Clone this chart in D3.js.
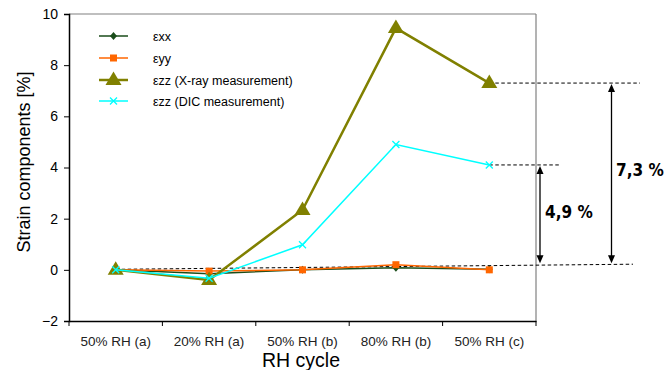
<!DOCTYPE html>
<html><head><meta charset="utf-8">
<script src="https://cdn.jsdelivr.net/npm/d3@7"></script>
<style>body{margin:0;background:#fff;} text{font-family:Arial,"Liberation Sans",sans-serif;}</style>
</head><body>
<svg id="c" width="664" height="370"></svg>
<script>
const categories = ["50% RH (a)","20% RH (a)","50% RH (b)","80% RH (b)","50% RH (c)"];
const exx = [0, -0.15, 0.0, 0.08, 0.02];
const eyy = [0, -0.05, 0.0, 0.2, 0.0];
const ezzXray = [0, -0.4, 2.34, 9.45, 7.3];
const ezzDIC = [0, -0.33, 0.98, 4.9, 4.1];
const yTicks = [-2, 0, 2, 4, 6, 8, 10];
const seriesNames = ["εxx","εyy","εzz (X-ray measurement)","εzz (DIC measurement)"];
const diffLabels = ["7,3 %","4,9 %"];
const baselineVals = [0.02, 0.22];

const svg = d3.select("#c");
const L=69, R=536, T=14, B=321;
const x = d3.scaleBand().domain(categories).range([L,R]);
const y = d3.scaleLinear().domain([-2,10]).range([B,T]);
const cx = c => x(c)+x.bandwidth()/2;

// frame top/right
svg.append("line").attr("x1",L).attr("x2",R).attr("y1",T).attr("y2",T).attr("stroke","#808080").attr("stroke-width",1.2);
svg.append("line").attr("x1",R).attr("x2",R).attr("y1",T).attr("y2",B).attr("stroke","#808080").attr("stroke-width",1.2);

// axes
const ya = svg.append("g").attr("transform",`translate(${L},0)`).call(d3.axisLeft(y).tickValues(yTicks).tickSize(5).tickPadding(6));
ya.select(".domain").attr("stroke","#000").attr("stroke-width",1.5);
ya.selectAll("text").style("font-size","14px").attr("fill","#000");
const xa = svg.append("g").attr("transform",`translate(0,${B})`).call(d3.axisBottom(x).tickSize(0).tickPadding(15));
xa.select(".domain").attr("stroke","#000").attr("stroke-width",1.5);
xa.selectAll("text").style("font-size","13.5px").attr("fill","#222");
// category boundary ticks
const bounds = categories.map(c=>x(c)).concat([R]);
svg.selectAll(".bt").data(bounds).enter().append("line").attr("x1",d=>d).attr("x2",d=>d).attr("y1",B).attr("y2",B+5).attr("stroke","#000");

svg.append("text").attr("transform","translate(30,162) rotate(-90)").attr("text-anchor","middle").style("font-size","18px").text("Strain components [%]");
svg.append("text").attr("x",301).attr("y",367).attr("text-anchor","middle").style("font-size","19.5px").text("RH cycle");

// dashed reference lines
const last = categories[4];
svg.append("line").attr("x1",cx(categories[0])).attr("y1",y(baselineVals[0])).attr("x2",633).attr("y2",y(baselineVals[1])).attr("stroke","#000").attr("stroke-dasharray","3.5,2.5");
svg.append("line").attr("x1",cx(last)).attr("y1",y(ezzXray[4])).attr("x2",640).attr("y2",y(ezzXray[4])).attr("stroke","#000").attr("stroke-dasharray","3.5,2.5");
svg.append("line").attr("x1",cx(last)).attr("y1",y(ezzDIC[4])).attr("x2",560).attr("y2",y(ezzDIC[4])).attr("stroke","#000").attr("stroke-dasharray","3.5,2.5");

const line = d3.line().x((d,i)=>cx(categories[i])).y(d=>y(d));
const series = [
 {v:exx, c:"#1a4d1a", w:1.5, m:"diamond"},
 {v:eyy, c:"#ff6600", w:1.5, m:"square"},
 {v:ezzXray, c:"#808000", w:2.5, m:"triangle"},
 {v:ezzDIC, c:"#00ffff", w:1.5, m:"x"}
];
function marker(g, type, px, py, c){
  if(type==="diamond") g.append("path").attr("d",`M${px},${py-4}L${px+3.5},${py}L${px},${py+4}L${px-3.5},${py}Z`).attr("fill",c);
  else if(type==="square") g.append("rect").attr("x",px-3.5).attr("y",py-3.5).attr("width",7).attr("height",7).attr("fill",c);
  else if(type==="triangle") g.append("path").attr("d",`M${px},${py-8.5}L${px+8},${py+5}L${px-8},${py+5}Z`).attr("fill",c);
  else g.append("path").attr("d",`M${px-3.5},${py-3.5}L${px+3.5},${py+3.5}M${px-3.5},${py+3.5}L${px+3.5},${py-3.5}`).attr("stroke",c).attr("stroke-width",1.3);
}
series.forEach(s=>{
  const g = svg.append("g");
  g.append("path").attr("d",line(s.v)).attr("fill","none").attr("stroke",s.c).attr("stroke-width",s.w);
  s.v.forEach((d,i)=>marker(g,s.m,cx(categories[i]),y(d),s.c));
});

// legend
const ly=[36,58,80,101];
series.forEach((s,i)=>{
  const g=svg.append("g");
  g.append("line").attr("x1",99).attr("x2",128).attr("y1",ly[i]).attr("y2",ly[i]).attr("stroke",s.c).attr("stroke-width",s.w);
  marker(g,s.m,113.5,ly[i],s.c);
  g.append("text").attr("x",153).attr("y",ly[i]+4.5).style("font-size","12.5px").text(seriesNames[i]);
});

// arrows
function arrow(ax, y1, y2){
  svg.append("line").attr("x1",ax).attr("x2",ax).attr("y1",y1+6).attr("y2",y2-6).attr("stroke","#000").attr("stroke-width",1.3);
  svg.append("path").attr("d",`M${ax},${y1}L${ax+3.5},${y1+8}L${ax-3.5},${y1+8}Z`).attr("fill","#000");
  svg.append("path").attr("d",`M${ax},${y2}L${ax+3.5},${y2-8}L${ax-3.5},${y2-8}Z`).attr("fill","#000");
}
const yb = () => y(baselineVals[1]);
arrow(611.5, y(ezzXray[4])+1, yb()-1);
arrow(540, y(ezzDIC[4])+1, yb()-1);
svg.append("text").attr("x",616).attr("y",176).style("font-size","17px").style("font-weight","bold").style("font-family","'DejaVu Sans Condensed','DejaVu Sans',sans-serif").text(diffLabels[0]);
svg.append("text").attr("x",545).attr("y",218).style("font-size","17px").style("font-weight","bold").style("font-family","'DejaVu Sans Condensed','DejaVu Sans',sans-serif").text(diffLabels[1]);
</script>
</body></html>
